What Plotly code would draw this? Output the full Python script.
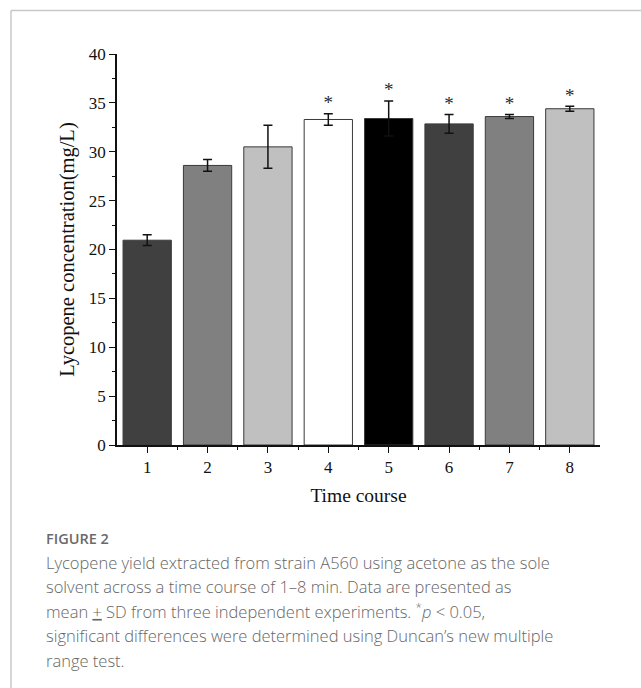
import plotly.graph_objects as go

categories = [1, 2, 3, 4, 5, 6, 7, 8]
means = [20.95, 28.6, 30.5, 33.3, 33.4, 32.85, 33.6, 34.4]
sds = [0.55, 0.6, 2.2, 0.6, 1.8, 0.95, 0.2, 0.25]
colors = ["#404040", "#808080", "#c0c0c0", "#ffffff", "#000000", "#404040", "#808080", "#c0c0c0"]
significant = [False, False, False, True, True, True, True, True]
y_ticks = [0, 5, 10, 15, 20, 25, 30, 35, 40]

W, H = 641, 688
L, R, T, B = 117, 41, 54, 243
pw, ph = W - L - R, H - T - B

def px(xp):
    return (xp - L) / pw

def py(yp):
    return (H - B - yp) / ph

fig = go.Figure()
fig.add_trace(go.Bar(
    x=categories, y=means, width=0.8,
    marker=dict(color=colors, line=dict(color="#3a3a3a", width=1)),
    error_y=dict(type="data", array=sds, visible=True, color="#111111", thickness=1.5, width=4.5),
    showlegend=False, hoverinfo="skip",
))
sx = [c for c, s in zip(categories, significant) if s]
sy = [m + s for m, s, g in zip(means, sds, significant) if g]
fig.add_trace(go.Scatter(
    x=sx, y=sy, mode="text", text=["*"] * len(sx), textposition="top center",
    textfont=dict(family="Liberation Serif", size=19, color="#2a2a2a"),
    showlegend=False, hoverinfo="skip", cliponaxis=False,
))

fig.update_layout(
    width=W, height=H, margin=dict(l=L, r=R, t=T, b=B, pad=0),
    paper_bgcolor="white", plot_bgcolor="white",
    font=dict(family="Liberation Serif", color="#111111"),
    bargap=0.2,
    xaxis=dict(
        range=[0.5, 8.5], tickmode="array", tickvals=categories,
        ticktext=[str(c) for c in categories],
        showline=True, linecolor="#111111", linewidth=1.5,
        ticks="outside", ticklen=6, tickwidth=1.2, tickcolor="#111111",
        minor=dict(tickmode="array", tickvals=[c + 0.5 for c in categories[:-1]], ticks="outside", ticklen=3, tickwidth=1.2, tickcolor="#111111"),
        showgrid=False, zeroline=False,
        tickfont=dict(family="Liberation Serif", size=17, color="#111111"),
        title=dict(text="Time course", font=dict(family="Liberation Serif", size=19.5, color="#111111"), standoff=12),
        fixedrange=True,
    ),
    yaxis=dict(
        range=[0, 40], tickmode="array", tickvals=y_ticks,
        showline=True, linecolor="#111111", linewidth=1.5,
        ticks="outside", ticklen=6, tickwidth=1.2, tickcolor="#111111",
        minor=dict(dtick=2.5, ticks="outside", ticklen=3, tickwidth=1.2, tickcolor="#111111"),
        showgrid=False, zeroline=False,
        tickfont=dict(family="Liberation Serif", size=17, color="#111111"),
        title=dict(text="Lycopene concentration(mg/L)", font=dict(family="Liberation Serif", size=20.5, color="#111111"), standoff=9),
        fixedrange=True,
    ),
)

# outer frame (left and top edges)
fig.add_shape(type="line", xref="paper", yref="paper", x0=px(11), x1=px(11), y0=py(10.5), y1=py(700),
              line=dict(color="#c8c8c8", width=1.5))
fig.add_shape(type="line", xref="paper", yref="paper", x0=px(11), x1=px(660), y0=py(10.5), y1=py(10.5),
              line=dict(color="#c8c8c8", width=1.5))

caption_title = "FIGURE 2"
caption_lines = [
    "Lycopene yield extracted from strain A560 using acetone as the sole",
    "solvent across a time course of 1\u20138 min. Data are presented as",
    "mean <u>+</u> SD from three independent experiments. <sup>*</sup><i>p</i> &lt; 0.05,",
    "significant differences were determined using Duncan\u2019s new multiple",
    "range test.",
]
fig.add_annotation(xref="paper", yref="paper", x=px(44), y=py(538), xanchor="left", yanchor="middle",
                   text=caption_title, showarrow=False,
                   font=dict(family="Open Sans", size=14.5, color="#6a6a6a", weight=600))
for i, line in enumerate(caption_lines):
    fig.add_annotation(xref="paper", yref="paper", x=px(44), y=py(562 + 24.5 * i), xanchor="left", yanchor="middle",
                       text=line, showarrow=False,
                       font=dict(family="Open Sans", size=16.5, color="#666666", weight=300))

fig.write_html("out.html", config={"displayModeBar": False})

with open("out.html", "r", encoding="utf-8") as f:
    html = f.read()
html = html.replace("<head>", "<head><style>html,body{margin:0;padding:0;overflow:hidden;}</style>", 1)
with open("out.html", "w", encoding="utf-8") as f:
    f.write(html)
